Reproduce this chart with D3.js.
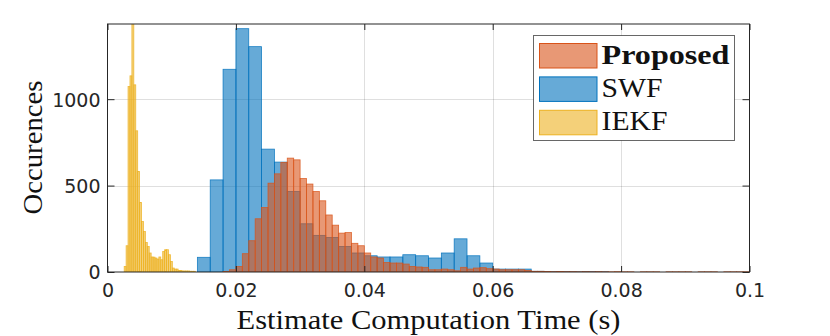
<!DOCTYPE html>
<html>
<head>
<meta charset="utf-8">
<script src="https://cdn.jsdelivr.net/npm/d3@7/dist/d3.min.js"></script>
<style>
  html, body { margin: 0; padding: 0; background: #fff; }
  svg { display: block; }
</style>
</head>
<body>
<svg id="chart" width="830" height="336"></svg>
<script>
// histogram counts
const seriesNames = ["Proposed", "SWF", "IEKF"];
const seriesColors = ["#D95319", "#0072BD", "#EDB120"];

// Proposed: bins of 0.001 s starting at 0.018
const proposedStart = 0.018;
const proposedWidth = 0.001;
const proposedCounts = [
  3, 13, 32, 106, 181, 308, 373, 514, 568, 634,
  659, 649, 541, 509, 466, 412, 330, 271, 225, 228,
  166, 152, 110, 87, 81, 55, 52, 52, 46, 32,
  29, 27, 13, 13, 17, 13, 7, 27, 17, 23,
  25, 19, 17, 13, 13, 13, 13, 9, 4, 4,
  3, 2, 3, 2, 2, 1, 2, 1, 2, 1,
  1, 2, 1, 1, 0, 1, 1, 1, 0, 1,
  1, 1, 1, 0, 1, 1, 1, 0, 1, 1, 1, 1
];

// SWF: bins of 0.002 s starting at 0.014
const swfStart = 0.014;
const swfWidth = 0.002;
const swfCounts = [
  85, 533, 1173, 1408, 1304, 711, 636, 466, 279, 212,
  200, 148, 110, 94, 87, 87, 100, 94, 81, 110,
  192, 94, 52, 17, 17, 17, 4, 2, 2, 1, 2, 1
];

// IEKF: bins of 0.0003 s starting at 0.0026
const iekfStart = 0.0026;
const iekfWidth = 0.0003;
const iekfCounts = [
  32, 152, 1073, 1135, 1500, 1083, 817, 582, 402, 292,
  235, 171, 148, 110, 87, 86, 81, 75, 87, 71,
  119, 129, 129, 100, 61, 23, 17, 17, 9, 9,
  6, 6, 6, 6, 4, 4, 4
];

const xTicks = [0, 0.02, 0.04, 0.06, 0.08, 0.1];
const xTickLabels = ["0", "0.02", "0.04", "0.06", "0.08", "0.1"];
const yTicks = [0, 500, 1000];
const yTickLabels = ["0", "500", "1000"];
const yMax = 1435;

const axisColor = "#262626";
const plotLeft = 107.5, plotRight = 749.5, plotTop = 24, plotBottom = 272;

const svg = d3.select("#chart");
const x = d3.scaleLinear().domain([0, 0.1]).range([plotLeft, plotRight]);
const y = d3.scaleLinear().domain([0, yMax]).range([plotBottom, plotTop]);

function toBins(start, width, counts) {
  return counts.map((c, i) => ({ x0: start + i * width, x1: start + (i + 1) * width, c }));
}

svg.append("defs").append("clipPath").attr("id", "plotClip")
  .append("rect")
  .attr("x", plotLeft).attr("y", plotTop)
  .attr("width", plotRight - plotLeft).attr("height", plotBottom - plotTop);

// grid
const grid = svg.append("g").attr("stroke", axisColor).attr("stroke-opacity", 0.15);
grid.selectAll("line.gx")
  .data(xTicks.slice(1, -1))
  .join("line")
  .attr("x1", (d) => Math.round(x(d)) + 0.5).attr("x2", (d) => Math.round(x(d)) + 0.5)
  .attr("y1", plotTop).attr("y2", plotBottom);
grid.selectAll("line.gy")
  .data(yTicks.slice(1))
  .join("line")
  .attr("x1", plotLeft).attr("x2", plotRight)
  .attr("y1", (d) => Math.round(y(d)) + 0.5).attr("y2", (d) => Math.round(y(d)) + 0.5);

// bars
const plot = svg.append("g").attr("clip-path", "url(#plotClip)");
const layers = [
  { bins: toBins(swfStart, swfWidth, swfCounts), color: seriesColors[1] },
  { bins: toBins(iekfStart, iekfWidth, iekfCounts), color: seriesColors[2] },
  { bins: toBins(proposedStart, proposedWidth, proposedCounts), color: seriesColors[0] },
];
for (const layer of layers) {
  plot.append("g")
    .selectAll("rect")
    .data(layer.bins.filter((d) => d.c > 0))
    .join("rect")
    .attr("x", (d) => x(d.x0))
    .attr("width", (d) => x(d.x1) - x(d.x0))
    .attr("y", (d) => y(d.c))
    .attr("height", (d) => y(0) - y(d.c))
    .attr("fill", layer.color)
    .attr("fill-opacity", 0.6)
    .attr("stroke", layer.color)
    .attr("stroke-opacity", 0.85)
    .attr("stroke-width", 0.8);
}

// axes (box with inward ticks)
const xAxis = d3.axisBottom(x).tickValues(xTicks)
  .tickFormat((d, i) => xTickLabels[i]).tickSize(-6).tickPadding(12);
const gx = svg.append("g").attr("transform", `translate(0,${plotBottom})`).call(xAxis);
const yAxis = d3.axisLeft(y).tickValues(yTicks)
  .tickFormat((d, i) => yTickLabels[i]).tickSize(-7).tickPadding(7);
const gy = svg.append("g").attr("transform", `translate(${plotLeft},0)`).call(yAxis);
const gxTop = svg.append("g").attr("transform", `translate(0,${plotTop})`)
  .call(d3.axisTop(x).tickValues(xTicks).tickSize(-6).tickFormat(""));
const gyRight = svg.append("g").attr("transform", `translate(${plotRight},0)`)
  .call(d3.axisRight(y).tickValues(yTicks).tickSize(-7).tickFormat(""));

for (const g of [gx, gy, gxTop, gyRight]) {
  g.select(".domain").remove();
  g.selectAll(".tick line").attr("stroke", axisColor);
  g.selectAll(".tick text")
    .attr("fill", axisColor)
    .style("font-family", "'DejaVu Sans', sans-serif")
    .style("font-size", "19px");
}
gy.selectAll(".tick text").attr("dy", "0.36em");

svg.append("rect")
  .attr("x", plotLeft).attr("y", plotTop)
  .attr("width", plotRight - plotLeft).attr("height", plotBottom - plotTop)
  .attr("fill", "none").attr("stroke", axisColor).attr("stroke-width", 1);

// axis labels
svg.append("text")
  .attr("x", (plotLeft + plotRight) / 2).attr("y", 329)
  .attr("text-anchor", "middle")
  .attr("textLength", 384).attr("lengthAdjust", "spacingAndGlyphs")
  .style("font-family", "'Liberation Serif', serif").style("font-size", "28px")
  .attr("fill", "#111")
  .text("Estimate Computation Time (s)");

svg.append("text")
  .attr("transform", "translate(41.5,147.5) rotate(-90)")
  .attr("text-anchor", "middle")
  .attr("textLength", 134).attr("lengthAdjust", "spacingAndGlyphs")
  .style("font-family", "'Liberation Serif', serif").style("font-size", "28px")
  .attr("fill", "#111")
  .text("Occurences");

// legend
const legend = svg.append("g");
legend.append("rect")
  .attr("x", 533.5).attr("y", 35.5).attr("width", 201).attr("height", 105)
  .attr("fill", "#fff").attr("stroke", axisColor).attr("stroke-opacity", 0.7);
const legendWidths = [128, 61, 66];
seriesNames.forEach((name, i) => {
  const rowY = 43.5 + i * 33.4;
  legend.append("rect")
    .attr("x", 539.5).attr("y", rowY).attr("width", 57.5).attr("height", 24.5)
    .attr("fill", seriesColors[i]).attr("fill-opacity", 0.6)
    .attr("stroke", seriesColors[i]).attr("stroke-width", 1);
  legend.append("text")
    .attr("x", 601.5).attr("y", rowY + 20)
    .attr("textLength", legendWidths[i]).attr("lengthAdjust", "spacingAndGlyphs")
    .style("font-family", "'Liberation Serif', serif").style("font-size", "27px")
    .style("font-weight", i === 0 ? "bold" : "normal")
    .attr("fill", "#111")
    .text(name);
});
</script>
</body>
</html>
